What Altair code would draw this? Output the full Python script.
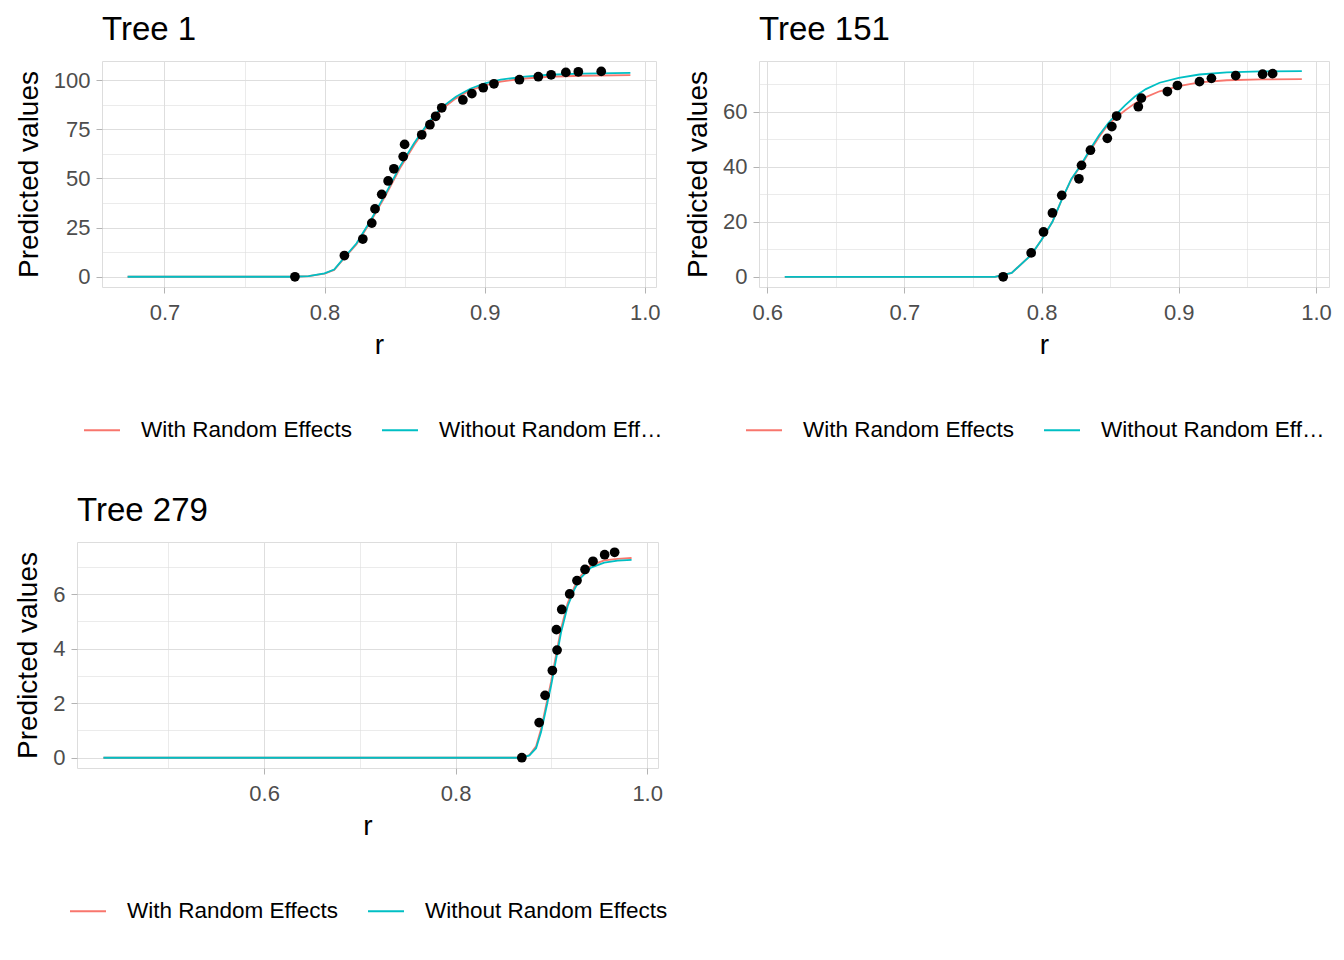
import altair as alt
import pandas as pd

FONT = "Liberation Sans"
SERIES = ["With Random Effects", "Without Random Effects"]
COLORS = ["#F8766D", "#00BFC4"]

# ---------------- Tree 1 ----------------
t1_obs_r = [0.7815, 0.8124, 0.8239, 0.8295, 0.8315, 0.8357, 0.8397, 0.8433, 0.8491, 0.8500, 0.8607, 0.8658,
            0.8694, 0.8732, 0.8864, 0.8920, 0.8991, 0.9058, 0.9217, 0.9335, 0.9415, 0.9507, 0.9585, 0.9728]
t1_obs_y = [0, 10.8, 19.2, 27.3, 34.5, 41.9, 48.7, 54.9, 61.1, 67.3, 72.2, 77.3,
            81.6, 85.9, 89.9, 93.1, 96.1, 98.1, 100.2, 101.7, 102.7, 103.9, 104.2, 104.4]
t1_wo_r = [0.677, 0.78, 0.79, 0.80, 0.806, 0.812, 0.82, 0.829, 0.838, 0.847, 0.856, 0.865, 0.873,
           0.882, 0.891, 0.90, 0.91, 0.925, 0.94, 0.96, 0.991]
t1_wo_y = [0, 0, 0.3, 1.7, 3.7, 9.5, 17, 29, 42, 56, 68, 78.6, 86,
           91.5, 95.6, 98.3, 100.2, 101.8, 102.7, 103.3, 103.7]
t1_w_r = [0.677, 0.78, 0.79, 0.80, 0.806, 0.812, 0.82, 0.829, 0.838, 0.847, 0.856, 0.865, 0.873,
          0.882, 0.891, 0.90, 0.91, 0.925, 0.94, 0.96, 0.991]
t1_w_y = [0, 0, 0.3, 1.6, 3.5, 9.2, 16.5, 28.3, 41.2, 55, 67, 77.5, 85,
          90.7, 94.8, 97.3, 99.2, 100.8, 101.7, 102.2, 102.5]

# ---------------- Tree 151 ----------------
t2_obs_r = [0.7720, 0.7924, 0.8014, 0.8079, 0.8147, 0.8272, 0.8291, 0.8356, 0.8479, 0.8512,
            0.8547, 0.8705, 0.8727, 0.8917, 0.8990, 0.9151, 0.9238, 0.9415, 0.9611, 0.9684]
t2_obs_y = [0, 8.7, 16.3, 23.2, 29.6, 35.6, 40.5, 46.0, 50.3, 54.6,
            58.4, 61.8, 64.9, 67.3, 69.5, 70.9, 72.1, 73.1, 73.6, 73.8]
t2_wo_r = [0.6128, 0.766, 0.7782, 0.7924, 0.80, 0.8079, 0.8147, 0.8216, 0.8291, 0.8356, 0.842,
           0.8485, 0.8547, 0.861, 0.868, 0.876, 0.886, 0.90, 0.915, 0.935, 0.96, 0.9897]
t2_wo_y = [0, 0, 1.4, 8.0, 13.5, 20, 28, 35.5, 41, 46.5, 51.5,
           55.8, 59.2, 62.4, 65.5, 68.2, 70.5, 72.3, 73.5, 74.3, 74.6, 74.7]
t2_w_r = [0.6128, 0.766, 0.7782, 0.7924, 0.80, 0.8079, 0.8147, 0.8216, 0.8291, 0.8356, 0.842,
          0.8485, 0.8547, 0.861, 0.868, 0.876, 0.886, 0.90, 0.915, 0.935, 0.96, 0.9897]
t2_w_y = [0, 0, 1.4, 8.0, 13.5, 20, 28, 35.3, 40.7, 46.0, 50.9,
          55.3, 58.0, 60.5, 63.0, 65.3, 67.4, 69.3, 70.6, 71.4, 71.7, 71.8]

# ---------------- Tree 279 ----------------
t3_obs_r = [0.8691, 0.8872, 0.8934, 0.9010, 0.9059, 0.9052, 0.9108, 0.9191, 0.9267, 0.9351, 0.9434, 0.9556, 0.9660]
t3_obs_y = [0, 1.29, 2.29, 3.20, 3.95, 4.70, 5.44, 6.01, 6.50, 6.91, 7.21, 7.45, 7.54]
t3_wo_r = [0.4322, 0.869, 0.877, 0.884, 0.8892, 0.8944, 0.8997, 0.9049, 0.9101, 0.917, 0.924, 0.9309,
           0.9413, 0.9552, 0.9691, 0.9837]
t3_wo_y = [0, 0, 0.085, 0.35, 0.94, 1.79, 2.65, 3.62, 4.6, 5.57, 6.18, 6.61,
           6.98, 7.16, 7.23, 7.26]
t3_w_r = [0.4322, 0.869, 0.877, 0.884, 0.8892, 0.8944, 0.8997, 0.9049, 0.9101, 0.917, 0.924, 0.9309,
          0.9413, 0.9552, 0.9691, 0.9837]
t3_w_y = [0, 0, 0.1, 0.42, 1.05, 1.92, 2.8, 3.78, 4.74, 5.68, 6.27, 6.69,
          7.06, 7.24, 7.30, 7.33]

GRID = "#DEDEDE"
BORDER = "#B3B3B3"


def make_panel(title, obs_r, obs_y, w_r, w_y, wo_r, wo_y, xdom, ydom, xvals, yvals,
               xtest, ytest, width, legend_x, label_limit):
    w_df = pd.DataFrame({"r": w_r, "value": w_y, "series": SERIES[0]})
    wo_df = pd.DataFrame({"r": wo_r, "value": wo_y, "series": SERIES[1]})
    obs_df = pd.DataFrame({"r": obs_r, "value": obs_y})

    xlabel = f"{xtest} ? format(datum.value, '.1f') : ''"
    ylabel = f"{ytest} ? datum.label : ''"
    common = dict(domain=False, tickColor=BORDER, tickSize=6, tickWidth=1,
                  labelFont=FONT, labelFontSize=22, labelColor="#4D4D4D",
                  titleFont=FONT, titleFontSize=28, titleFontWeight="normal", titleColor="black",
                  gridColor=GRID)
    x = alt.X("r:Q", scale=alt.Scale(domain=xdom, nice=False, zero=False),
              axis=alt.Axis(values=xvals, labelExpr=xlabel, title="r",
                            tickOpacity={"condition": {"test": xtest, "value": 1}, "value": 0},
                            gridWidth={"condition": {"test": xtest, "value": 1}, "value": 0.6},
                            labelPadding=9, titlePadding=8, labelFlush=False, **common))
    y = alt.Y("value:Q", scale=alt.Scale(domain=ydom, nice=False, zero=False),
              axis=alt.Axis(values=yvals, labelExpr=ylabel, title="Predicted values",
                            tickOpacity={"condition": {"test": ytest, "value": 1}, "value": 0},
                            gridWidth={"condition": {"test": ytest, "value": 1}, "value": 0.6},
                            labelPadding=6, titlePadding=10, **common))
    color = alt.Color("series:N", scale=alt.Scale(domain=SERIES, range=COLORS),
                      legend=alt.Legend(orient="none", legendX=legend_x, legendY=350,
                                        direction="horizontal", title=None,
                                        symbolType="stroke", symbolSize=1296, symbolStrokeWidth=2,
                                        labelFont=FONT, labelFontSize=22.5, labelColor="black",
                                        labelOffset=20, columnPadding=26, labelLimit=label_limit))
    red = alt.Chart(w_df).mark_line(strokeWidth=1.8).encode(x=x, y=y, color=color)
    cyan = alt.Chart(wo_df).mark_line(strokeWidth=1.8).encode(x=x, y=y, color=color)
    pts = alt.Chart(obs_df).mark_circle(size=95, color="black", opacity=1).encode(x=x, y=y)
    return alt.layer(red, cyan, pts).properties(
        width=width, height=226,
        title=alt.TitleParams(text=title, anchor="start", frame="group", font=FONT, fontSize=33,
                              fontWeight="normal", color="black", offset=14))


def spacer():
    return alt.Chart(pd.DataFrame({"a": [0]})).mark_point(opacity=0, size=0).encode(
        x=alt.X("a:Q", axis=None), y=alt.Y("a:Q", axis=None)
    ).properties(width=1, height=1, view=alt.ViewBackground(strokeOpacity=0))


XT = "abs(datum.value*10 - round(datum.value*10)) < 0.001"
XT5 = "abs(datum.value*5 - round(datum.value*5)) < 0.001"

p1 = make_panel("Tree 1", t1_obs_r, t1_obs_y, t1_w_r, t1_w_y, t1_wo_r, t1_wo_y,
                [0.661, 1.007], [-5.2, 109.7],
                [0.7, 0.75, 0.8, 0.85, 0.9, 0.95, 1.0],
                [0, 12.5, 25, 37.5, 50, 62.5, 75, 87.5, 100],
                XT, "datum.value % 25 == 0", 554, -19, 232)
p2 = make_panel("Tree 151", t2_obs_r, t2_obs_y, t2_w_r, t2_w_y, t2_wo_r, t2_wo_y,
                [0.594, 1.0095], [-3.7, 78.4],
                [0.6, 0.65, 0.7, 0.75, 0.8, 0.85, 0.9, 0.95, 1.0],
                [0, 10, 20, 30, 40, 50, 60, 70],
                XT, "datum.value % 20 == 0", 570, -14, 225)
p3 = make_panel("Tree 279", t3_obs_r, t3_obs_y, t3_w_r, t3_w_y, t3_wo_r, t3_wo_y,
                [0.4046, 1.0113], [-0.377, 7.917],
                [0.5, 0.6, 0.7, 0.8, 0.9, 1.0],
                [0, 1, 2, 3, 4, 5, 6, 7],
                XT5, "datum.value % 2 == 0", 581, -8, 300)

top = alt.hconcat(p1, p2, spacing=20).resolve_scale(color="independent").resolve_legend(color="independent")
chart = alt.concat(spacer(), top, spacer(), p3, columns=2, align="none",
                   spacing=alt.RowColnumber(row=51, column=0)).resolve_scale(
    color="independent").resolve_legend(color="independent")
chart = chart.properties(padding={"left": 5, "top": 5, "right": 0, "bottom": 0}).configure_view(
    stroke=BORDER, strokeWidth=1).configure(background="white")

chart.save("out.html", embed_options={"renderer": "svg", "actions": False})
